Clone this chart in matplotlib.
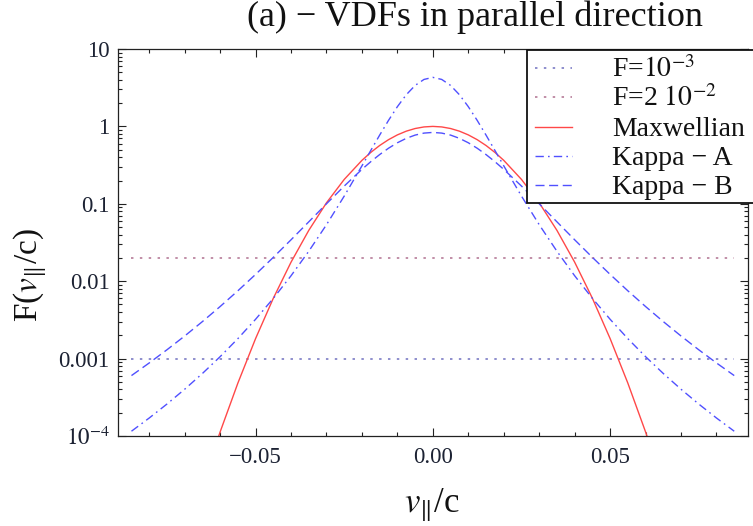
import matplotlib
matplotlib.use("Agg")
import matplotlib.pyplot as plt
from matplotlib.lines import Line2D
from matplotlib.patches import Rectangle
from matplotlib.ticker import FixedLocator, MultipleLocator, LogLocator, NullFormatter

plt.rcParams['font.family'] = ['Liberation Serif', 'DejaVu Serif']
plt.rcParams['mathtext.fontset'] = 'stix'

# ---------------- data ----------------
v = [-0.085, -0.08, -0.075, -0.07, -0.065, -0.06, -0.055, -0.05, -0.045, -0.04,
     -0.035, -0.03, -0.025, -0.02, -0.0175, -0.015, -0.0125, -0.01, -0.0075,
     -0.005, -0.0025, 0.0, 0.0025, 0.005, 0.0075, 0.01, 0.0125, 0.015, 0.0175,
     0.02, 0.025, 0.03, 0.035, 0.04, 0.045, 0.05, 0.055, 0.06, 0.065, 0.07,
     0.075, 0.08, 0.085]

kappa_a = [1.153e-4, 1.707e-4, 2.586e-4, 4.017e-4, 6.418e-4, 1.0586e-3, 1.8092e-3,
           3.2195e-3, 5.997e-3, 0.011752, 0.024365, 0.05370, 0.12571, 0.30928,
           0.48956, 0.77168, 1.1972, 1.7988, 2.5633, 3.3835, 4.0434, 4.30,
           4.0434, 3.3835, 2.5633, 1.7988, 1.1972, 0.77168, 0.48956, 0.30928,
           0.12571, 0.05370, 0.024365, 0.011752, 5.997e-3, 3.2195e-3, 1.8092e-3,
           1.0586e-3, 6.418e-4, 4.017e-4, 2.586e-4, 1.707e-4, 1.153e-4]

kappa_b = [6.034e-4, 8.781e-4, 1.2995e-3, 1.9577e-3, 3.0053e-3, 4.7041e-3, 7.5119e-3,
           0.012237, 0.020311, 0.034266, 0.058467, 0.10005, 0.16947, 0.27856,
           0.35030, 0.43263, 0.52254, 0.61456, 0.70087, 0.77217, 0.81943, 0.836,
           0.81943, 0.77217, 0.70087, 0.61456, 0.52254, 0.43263, 0.35030, 0.27856,
           0.16947, 0.10005, 0.058467, 0.034266, 0.020311, 0.012237, 7.5119e-3,
           4.7041e-3, 3.0053e-3, 1.9577e-3, 1.2995e-3, 8.781e-4, 6.034e-4]

v_maxw = [-0.065, -0.06, -0.055, -0.05, -0.045, -0.04, -0.035, -0.03, -0.025,
          -0.02, -0.0175, -0.015, -0.0125, -0.01, -0.0075, -0.005, -0.0025, 0.0,
          0.0025, 0.005, 0.0075, 0.01, 0.0125, 0.015, 0.0175, 0.02, 0.025, 0.03,
          0.035, 0.04, 0.045, 0.05, 0.055, 0.06, 0.065]

maxwellian = [2.33e-5, 1.127e-4, 4.814e-4, 1.8132e-3, 6.0133e-3, 0.017601, 0.045338,
              0.10302, 0.20637, 0.36422, 0.46145, 0.56659, 0.67398, 0.77685,
              0.86758, 0.93882, 0.98434, 1.0, 0.98434, 0.93882, 0.86758, 0.77685,
              0.67398, 0.56659, 0.46145, 0.36422, 0.20637, 0.10302, 0.045338,
              0.017601, 6.0133e-3, 1.8132e-3, 4.814e-4, 1.127e-4, 2.33e-5]

level_range = [-0.085, 0.085]
level_low = 1e-3
level_high = 2e-2

x_ticks = [-0.05, 0.0, 0.05]
x_ticklabels = ['\u22120.05', '0.00', '0.05']
y_ticks = [1e-4, 1e-3, 1e-2, 1e-1, 1, 10]
y_ticklabels = [r'$10^{-4}$', '0.001', '0.01', '0.1', '1', '10']

legend_labels = [r'F=$10^{-3}$', r'F=2 $10^{-2}$', 'Maxwellian',
                 'Kappa \u2212 A', 'Kappa \u2212 B']

# ---------------- styles ----------------
W, H = 753, 526
c_red = '#ff4848'
c_blue = '#5050ff'
c_low = '#7070c0'
c_high = '#b07090'
dot = (0, (1.6, 4.2))
dashdot = (0, (6.0, 3.0, 1.2, 3.0))
dashed = (0, (6.5, 3.3))
styles = [
    dict(color=c_low, ls=dot, lw=1.1),
    dict(color=c_high, ls=dot, lw=1.1),
    dict(color=c_red, ls='-', lw=1.0),
    dict(color=c_blue, ls=dashdot, lw=1.0),
    dict(color=c_blue, ls=dashed, lw=1.0),
]

fig = plt.figure(figsize=(W / 100, H / 100), dpi=100)
L, R, T, B = 118, 747.7, 49, 436
ax = fig.add_axes([L / W, 1 - B / H, (R - L) / W, (B - T) / H])

ax.plot(level_range, [level_low, level_low], **styles[0])
ax.plot(level_range, [level_high, level_high], **styles[1])
ax.plot(v_maxw, maxwellian, **styles[2])
ax.plot(v, kappa_a, **styles[3])
ax.plot(v, kappa_b, **styles[4])

ax.set_yscale('log')
ax.set_xlim(-0.0888, 0.0888)
ax.set_ylim(1e-4, 10)

tick_color = '#1c2233'
ax.xaxis.set_major_locator(FixedLocator(x_ticks))
ax.set_xticklabels(x_ticklabels)
ax.xaxis.set_minor_locator(MultipleLocator(0.01))
ax.yaxis.set_major_locator(FixedLocator(y_ticks))
ax.set_yticklabels(y_ticklabels)
ax.yaxis.set_minor_locator(LogLocator(base=10, subs=range(2, 10)))
ax.yaxis.set_minor_formatter(NullFormatter())

ax.tick_params(which='both', direction='in', top=True, right=True, width=0.8,
               color='#222222')
ax.tick_params(which='major', length=5.5, labelsize=16.5, labelcolor=tick_color)
ax.tick_params(which='minor', length=3.0)
ax.tick_params(axis='x', which='major', pad=8)
ax.tick_params(axis='y', which='major', pad=6)
for s in ax.spines.values():
    s.set_linewidth(0.9)
    s.set_color('#222222')

# labels and title
fig.text(475 / W, 1 - 26 / H, '(a) \u2212 VDFs in parallel direction',
         ha='center', va='baseline', fontsize=26, color='#111111')
fig.text(432 / W, 1 - 505 / H, r'$v_{\Vert}$/c', ha='center', va='center',
         fontsize=25, color='#111111')
fig.text(30 / W, 1 - 275 / H, r'F($v_{\Vert}$/c)', ha='center', va='center',
         fontsize=24, rotation=90, color='#111111')

# legend box (drawn in figure pixels)
box = Rectangle((527 / W, 1 - 203 / H), (760 - 527) / W, (203 - 50) / H,
                transform=fig.transFigure, facecolor='white', edgecolor='#111111',
                lw=1.3, zorder=5)
fig.add_artist(box)
row_y = [68.3, 96.7, 127.3, 156.0, 185.0]
for yy, lab, st in zip(row_y, legend_labels, styles):
    ln = Line2D([535 / W, 572 / W], [1 - yy / H, 1 - yy / H],
                transform=fig.transFigure, zorder=6, **st)
    fig.add_artist(ln)
    fig.text(612 / W, 1 - (yy + 9) / H, lab, ha='left', va='baseline',
             fontsize=20, color='#111111', zorder=6)

fig.savefig('out.png', dpi=100)
